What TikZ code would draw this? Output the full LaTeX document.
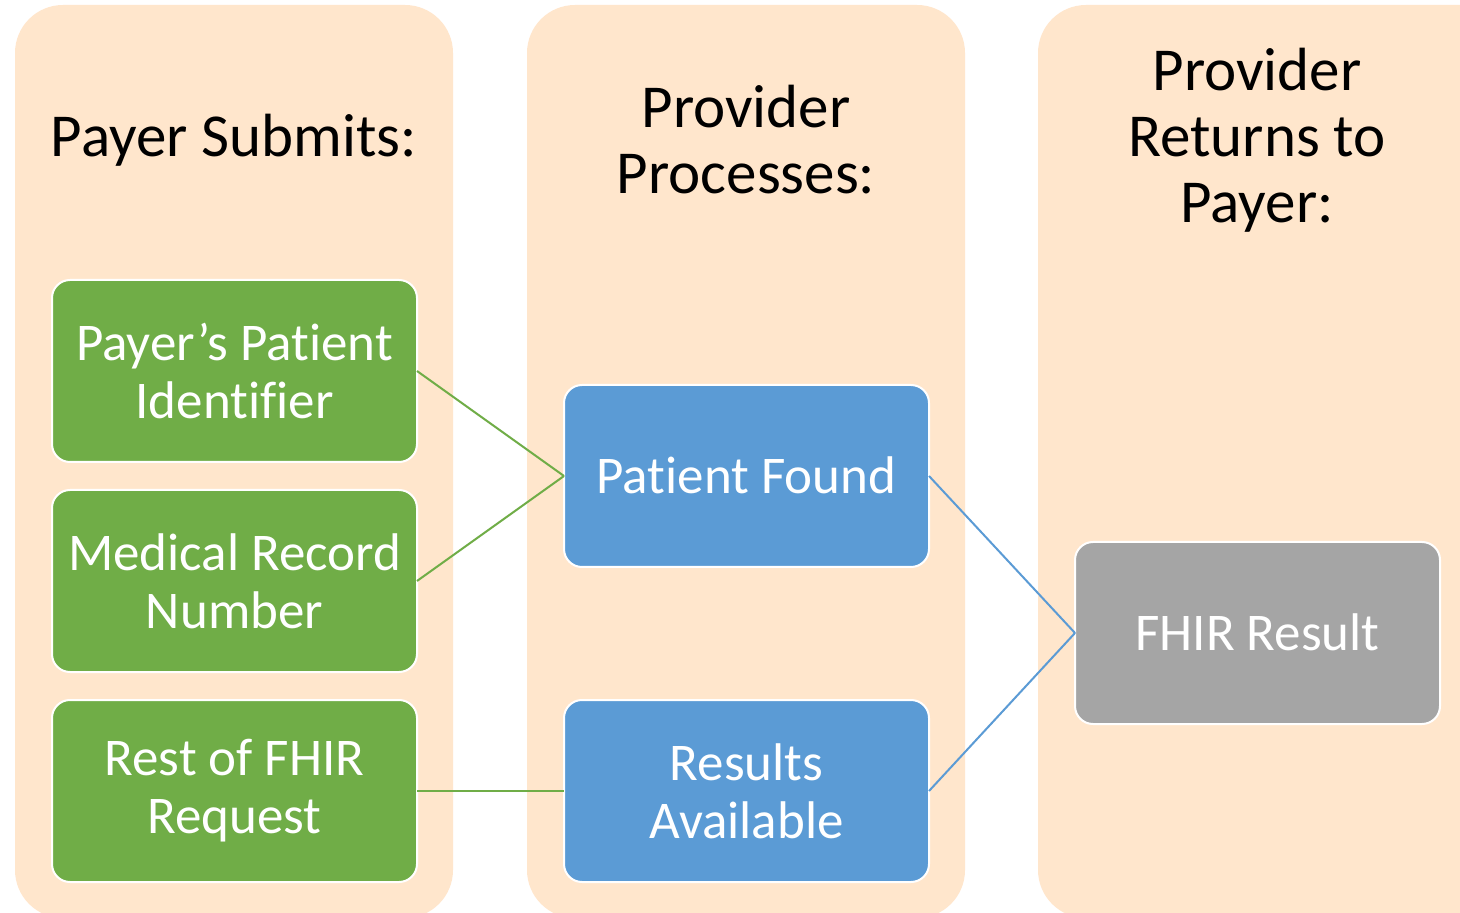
\documentclass[tikz,border=0pt]{standalone}
\usepackage{fontspec}
\setmainfont{Carlito}[RawFeature={-liga;-clig;-dlig}]
\definecolor{peach}{HTML}{FFE6CC}
\definecolor{boxgreen}{HTML}{70AD47}
\definecolor{boxblue}{HTML}{5B9BD5}
\definecolor{boxgray}{HTML}{A5A5A5}
\begin{document}
\begin{tikzpicture}[x=0.5pt,y=-0.5pt,
  column/.style={fill=peach,rounded corners=24pt},
  heading/.style={align=center,text=black,font=\fontsize{30.5}{33}\selectfont,inner sep=0pt},
  itembox/.style={draw=white,line width=1pt,rounded corners=9pt,minimum width=182.5pt,minimum height=91pt,inner sep=0pt,outer sep=0pt,align=center,text=white,font=\fontsize{26.5}{29}\selectfont},
  greenbox/.style={itembox,fill=boxgreen},
  bluebox/.style={itembox,fill=boxblue},
  graybox/.style={itembox,fill=boxgray},
  greenlink/.style={draw=boxgreen,line width=1pt},
  bluelink/.style={draw=boxblue,line width=1pt}]
\useasboundingbox[fill=white] (0,0) rectangle (1460,913);
% columns
\fill[column] (15,5) rectangle (453,918);
\fill[column] (527,5) rectangle (965,918);
\fill[column] (1038,5) rectangle (1510,918);
% headings
\node[heading] (h1) at (234,140) {Payer Submits:};
\node[heading] (h2) at (746,140) {Provider\\Processes:};
\node[heading] (h3) at (1257,140) {Provider\\Returns to\\Payer:};
% boxes
\node[greenbox] (g1) at (234.5,371) {\raisebox{1pt}{\parbox{170pt}{\centering Payer’s Patient\\Identifier}}};
\node[greenbox] (g2) at (234.5,581) {\raisebox{1pt}{\parbox{170pt}{\centering Medical Record\\Number}}};
\node[greenbox] (g3) at (234.5,791) {\raisebox{1pt}{\parbox{170pt}{\centering Rest of FHIR\\Request}}};
\node[bluebox] (b1) at (746.5,476) {\raisebox{1pt}{Patient Found}};
\node[bluebox] (b2) at (746.5,791) {\raisebox{1pt}{\parbox{170pt}{\centering Results\\Available}}};
\node[graybox] (r1) at (1257.5,633) {\raisebox{1pt}{FHIR Result}};
% connectors
\draw[greenlink] (g1.east) -- (b1.west);
\draw[greenlink] (g2.east) -- (b1.west);
\draw[greenlink] (g3.east) -- (b2.west);
\draw[bluelink] (b1.east) -- (r1.west);
\draw[bluelink] (b2.east) -- (r1.west);
\end{tikzpicture}
\end{document}
